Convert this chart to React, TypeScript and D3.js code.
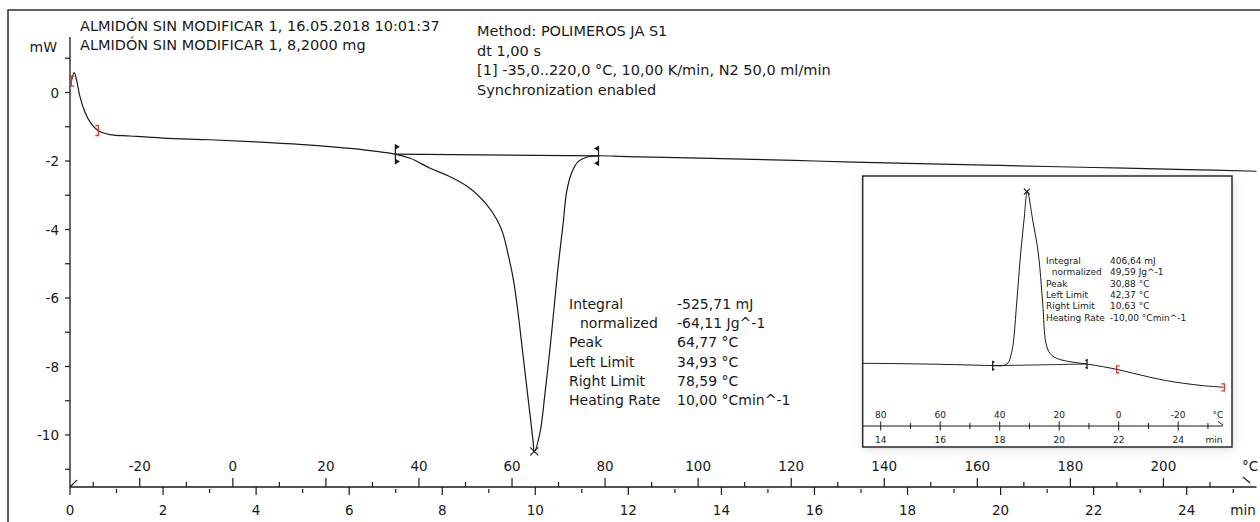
import React from "react";
import * as d3 from "d3";

// DSC run: time (min) vs heat flow (mW)
const mainTime = [0.03, 0.09, 0.15, 0.21, 0.32, 0.43, 0.6, 0.86, 1.29, 2, 3, 4, 5, 6, 6.99, 7.31, 7.74, 8.17, 8.6, 8.96, 9.17, 9.3, 9.42, 9.53, 9.63, 9.74, 9.85, 9.95, 9.98, 10.1, 10.21, 10.32, 10.42, 10.49, 10.6, 10.67, 10.78, 10.92, 11.1, 11.32, 12, 14, 16, 18, 20, 22, 24, 25.5];
const mainHeat = [0.33, 0.58, 0.31, -0.1, -0.57, -0.86, -1.11, -1.23, -1.27, -1.33, -1.38, -1.44, -1.52, -1.63, -1.8, -1.92, -2.21, -2.46, -2.8, -3.28, -3.7, -4.1, -4.75, -5.47, -6.44, -7.71, -8.98, -10.15, -10.48, -9.94, -8.77, -7.42, -6.06, -5.09, -3.81, -2.93, -2.35, -2.02, -1.89, -1.85, -1.87, -1.93, -2.0, -2.07, -2.13, -2.19, -2.25, -2.3];
const mainLimitTemp = [34.93, 78.59];
const mainBaseHeat = [-1.8, -1.85];
const mainPeakTemp = 64.77;
const mainPeakHeat = -10.48;
const mainRangeTime = [0.03, 0.61];
const mainRangeHeat = [0.33, -1.11];

// inset: cooling segment
const insetTime = [13.395, 14.649, 16.329, 17.775, 18.111, 18.279, 18.38, 18.457, 18.571, 18.706, 18.817, 18.93, 19.109, 19.297, 19.445, 19.556, 19.691, 19.916, 20.363, 20.924, 21.482, 21.933, 22.491, 23.052, 23.613, 24.171, 24.844, 25.516];
const insetHeat = [0.04, 0.02, -0.03, -0.09, -0.09, 0.06, 0.52, 1.22, 3.55, 6.45, 8.37, 10.02, 8.37, 6.45, 3.55, 1.2, 0.62, 0.33, 0.13, 0.0, -0.16, -0.31, -0.54, -0.77, -0.97, -1.12, -1.26, -1.35];
const insetLimitTemp = [42.37, 10.63];
const insetBaseHeat = [-0.1, 0.0];
const insetPeakTemp = 30.88;
const insetPeakHeat = 10.02;
const insetRangeTime = [21.93, 25.55];
const insetRangeHeat = [-0.31, -1.36];

// axes
const timeLabels = [0, 2, 4, 6, 8, 10, 12, 14, 16, 18, 20, 22, 24];
const timeMinor = [1, 3, 5, 7, 9, 11, 13, 15, 17, 19, 21, 23, 25];
const tempLabels = [-20, 0, 20, 40, 60, 80, 100, 120, 140, 160, 180, 200];
const tempMinor = [-30, -10, 10, 30, 50, 70, 90, 110, 130, 150, 170, 190, 210];
const heatLabels = [0, -2, -4, -6, -8, -10];
const heatMinor = [1, -1, -3, -5, -7, -9, -11];
const insetTimeLabels = [14, 16, 18, 20, 22, 24];
const insetTempLabels = [80, 60, 40, 20, 0, -20];
const insetTicks = [14, 15, 16, 17, 18, 19, 20, 21, 22, 23, 24, 25];

const headerLines = ["ALMIDÓN SIN MODIFICAR 1, 16.05.2018 10:01:37", "ALMIDÓN SIN MODIFICAR 1, 8,2000 mg"];
const methodLines = ["Method: POLIMEROS JA S1", "dt 1,00 s", "[1] -35,0..220,0 °C, 10,00 K/min, N2 50,0 ml/min", "Synchronization enabled"];
const resultNames = ["Integral", "normalized", "Peak", "Left Limit", "Right Limit", "Heating Rate"];
const mainResults = ["-525,71 mJ", "-64,11 Jg^-1", "64,77 °C", "34,93 °C", "78,59 °C", "10,00 °Cmin^-1"];
const insetResults = ["406,64 mJ", "49,59 Jg^-1", "30,88 °C", "42,37 °C", "10,63 °C", "-10,00 °Cmin^-1"];

const FONT = "DejaVu Sans, Verdana, sans-serif";
const RED = "#e3312b";
const INK = "#1a1a1a";

function LimitMark({ x, y, dir, h }: { x: number; y: number; dir: number; h: number }) {
  const t = h * 0.45;
  return (
    <g fill={INK} stroke={INK}>
      <line x1={x} x2={x} y1={y - h} y2={y + h} strokeWidth={1.2} />
      <path d={`M${x},${y - h}L${x + dir * t},${y - h + t * 0.6}L${x},${y - h + t * 1.2}Z`} stroke="none" />
      <path d={`M${x},${y + h}L${x + dir * t},${y + h - t * 0.6}L${x},${y + h - t * 1.2}Z`} stroke="none" />
    </g>
  );
}

function Bracket({ x, y, dir, h }: { x: number; y: number; dir: number; h: number }) {
  const w = 3 * dir;
  return (
    <path d={`M${x + w},${y - h}H${x}V${y + h}H${x + w}`} fill="none" stroke={RED} strokeWidth={1.3} />
  );
}

function Cross({ x, y, s }: { x: number; y: number; s: number }) {
  return <path d={`M${x - s},${y - s}L${x + s},${y + s}M${x - s},${y + s}L${x + s},${y - s}`} stroke={INK} strokeWidth={1.2} />;
}

export default function App() {
  const xTime = d3.scaleLinear().domain([0, 24]).range([70, 1186.7]);
  const xTemp = d3.scaleLinear().domain([-35, 205]).range([70, 1186.7]);
  const yHeat = d3.scaleLinear().domain([0, -10]).range([92.5, 435]);
  const tempToTime = (c: number) => (c + 35) / 10;

  const ixTime = d3.scaleLinear().domain([14, 24]).range([880.7, 1178.2]);
  const ixTemp = d3.scaleLinear().domain([80, -20]).range([880.7, 1178.2]);
  const iyHeat = d3.scaleLinear().domain([0, 10]).range([364, 192]);
  const insetTempToTime = (c: number) => 14 + (80 - c) / 10;

  const mainLine = d3
    .line<number>()
    .x((_, i) => xTime(mainTime[i]))
    .y((d) => yHeat(d))
    .curve(d3.curveCatmullRom.alpha(0.5));
  const insetLine = d3
    .line<number>()
    .x((_, i) => ixTime(insetTime[i]))
    .y((d) => iyHeat(d))
    .curve(d3.curveCatmullRom.alpha(0.5));

  const axisY = 487;
  const axisX = 70;
  const iAxisY = 426;
  const ix0 = 862.7, iy0 = 176, ix1 = 1232, iy1 = 447;

  const mLx = mainLimitTemp.map((c) => xTime(tempToTime(c)));
  const mLy = mainBaseHeat.map((h) => yHeat(h));
  const iLx = insetLimitTemp.map((c) => ixTime(insetTempToTime(c)));
  const iLy = insetBaseHeat.map((h) => iyHeat(h));

  return (
    <svg width={1260} height={522} style={{ position: "absolute", left: 0, top: 0, background: "#fff" }} fontFamily={FONT}>
      <defs>
        <filter id="shadow" x="-10%" y="-10%" width="120%" height="120%">
          <feGaussianBlur stdDeviation="5" />
        </filter>
        <clipPath id="insetClip">
          <rect x={ix0} y={iy0} width={ix1 - ix0} height={iy1 - iy0} />
        </clipPath>
      </defs>
      <rect x={8} y={10} width={1300} height={560} fill="none" stroke="#3a3a3a" strokeWidth={1.6} />

      {/* header */}
      {headerLines.map((s, i) => (
        <text key={s} x={80} y={30.7 + i * 19.4} fontSize={14.5} fill={INK}>{s}</text>
      ))}
      {methodLines.map((s, i) => (
        <text key={s} x={477} y={36 + i * 19.5} fontSize={14.5} fill={INK}>{s}</text>
      ))}
      <text x={57} y={51.5} fontSize={14} textAnchor="end" fill={INK}>mW</text>

      {/* y axis */}
      <line x1={axisX} x2={axisX} y1={37} y2={axisY} stroke={INK} strokeWidth={1.3} />
      {heatLabels.concat(heatMinor).map((v) => (
        <line key={v} x1={axisX - 5} x2={axisX} y1={yHeat(v)} y2={yHeat(v)} stroke={INK} strokeWidth={1.2} />
      ))}
      {heatLabels.map((v) => (
        <text key={v} x={59} y={yHeat(v) + 5} fontSize={13.5} textAnchor="end" fill={INK}>{v}</text>
      ))}

      {/* x axis: temperature above, time below */}
      <line x1={axisX} x2={xTemp(220)} y1={axisY} y2={axisY} stroke={INK} strokeWidth={1.3} />
      <path d={`M${axisX},${axisY}L${axisX + 7},${axisY - 7}`} stroke={INK} strokeWidth={1.1} fill="none" />
      {tempLabels.map((c) => (
        <g key={c}>
          <line x1={xTemp(c)} x2={xTemp(c)} y1={axisY - 9} y2={axisY} stroke={INK} strokeWidth={1.2} />
          <text x={xTemp(c)} y={471} fontSize={13.5} textAnchor="middle" fill={INK}>{c}</text>
        </g>
      ))}
      {tempMinor.map((c) => (
        <line key={c} x1={xTemp(c)} x2={xTemp(c)} y1={axisY - 5} y2={axisY} stroke={INK} strokeWidth={1.2} />
      ))}
      {timeLabels.map((t) => (
        <g key={t}>
          <line x1={xTime(t)} x2={xTime(t)} y1={axisY} y2={axisY + 8} stroke={INK} strokeWidth={1.2} />
          <text x={xTime(t)} y={515} fontSize={13.5} textAnchor="middle" fill={INK}>{t}</text>
        </g>
      ))}
      {timeMinor.map((t) => (
        <line key={t} x1={xTime(t)} x2={xTime(t)} y1={axisY + 2} y2={axisY + 6} stroke={INK} strokeWidth={1.2} />
      ))}
      <text x={1250} y={471} fontSize={13.5} textAnchor="middle" fill={INK}>°C</text>
      <path d={`M${1243},${477}L${1250},${483}`} stroke={INK} strokeWidth={1.1} />
      <text x={1243} y={515} fontSize={13.5} textAnchor="middle" fill={INK}>min</text>

      {/* main curve */}
      <path d={mainLine(mainHeat) || ""} fill="none" stroke={INK} strokeWidth={1.2} />
      <line x1={mLx[0]} x2={mLx[1]} y1={mLy[0]} y2={mLy[1]} stroke={INK} strokeWidth={1.2} />
      <LimitMark x={mLx[0]} y={mLy[0]} dir={1} h={10} />
      <LimitMark x={mLx[1]} y={mLy[1]} dir={-1} h={10} />
      <Cross x={xTime(tempToTime(mainPeakTemp))} y={yHeat(mainPeakHeat)} s={4} />
      <Bracket x={xTime(mainRangeTime[0])} y={yHeat(mainRangeHeat[0])} dir={1} h={5} />
      <Bracket x={xTime(mainRangeTime[1])} y={yHeat(mainRangeHeat[1])} dir={-1} h={5} />

      {/* annotation */}
      {resultNames.map((s, i) => (
        <g key={s}>
          <text x={i === 1 ? 580 : 569} y={309 + i * 19.2} fontSize={14} fill={INK}>{s}</text>
          <text x={677} y={309 + i * 19.2} fontSize={14} fill={INK}>{mainResults[i]}</text>
        </g>
      ))}

      {/* inset */}
      <rect x={ix0 + 1} y={iy0 + 2} width={ix1 - ix0} height={iy1 - iy0} fill="#bdbdbd" opacity={0.6} filter="url(#shadow)" />
      <rect x={ix0} y={iy0} width={ix1 - ix0} height={iy1 - iy0} fill="#fff" stroke="#2a2a2a" strokeWidth={1.5} />
      <g clipPath="url(#insetClip)">
        <path d={insetLine(insetHeat) || ""} fill="none" stroke={INK} strokeWidth={1} />
        <line x1={iLx[0]} x2={iLx[1]} y1={iLy[0]} y2={iLy[1]} stroke={INK} strokeWidth={0.9} />
        <LimitMark x={iLx[0]} y={iLy[0]} dir={1} h={5} />
        <LimitMark x={iLx[1]} y={iLy[1]} dir={-1} h={5} />
        <Cross x={ixTime(insetTempToTime(insetPeakTemp))} y={iyHeat(insetPeakHeat)} s={3} />
        <Bracket x={ixTime(insetRangeTime[0])} y={iyHeat(insetRangeHeat[0])} dir={1} h={3.5} />
        <Bracket x={ixTime(insetRangeTime[1])} y={iyHeat(insetRangeHeat[1])} dir={-1} h={3.5} />

        <line x1={ix0} x2={1223} y1={iAxisY} y2={iAxisY} stroke={INK} strokeWidth={1} />
        {insetTicks.map((t) => (
          <line key={t} x1={ixTime(t)} x2={ixTime(t)} y1={iAxisY - (t % 2 === 0 ? 4.5 : 3)} y2={iAxisY + (t % 2 === 0 ? 4.5 : 3)} stroke={INK} strokeWidth={1} />
        ))}
        {insetTempLabels.map((c) => (
          <text key={c} x={ixTemp(c)} y={417.5} fontSize={9} textAnchor="middle" fill={INK}>{c}</text>
        ))}
        {insetTimeLabels.map((t) => (
          <text key={t} x={ixTime(t)} y={442.5} fontSize={9} textAnchor="middle" fill={INK}>{t}</text>
        ))}
        <text x={1218} y={417.5} fontSize={9} textAnchor="middle" fill={INK}>°C</text>
        <path d={`M1218,421.5L1223,425`} stroke={INK} strokeWidth={0.9} />
        <text x={1214} y={442.5} fontSize={9} textAnchor="middle" fill={INK}>min</text>

        {resultNames.map((s, i) => (
          <g key={s}>
            <text x={i === 1 ? 1051.7 : 1046} y={264 + i * 11.3} fontSize={9} fill={INK}>{s}</text>
            <text x={1110} y={264 + i * 11.3} fontSize={9} fill={INK}>{insetResults[i]}</text>
          </g>
        ))}
      </g>
    </svg>
  );
}
